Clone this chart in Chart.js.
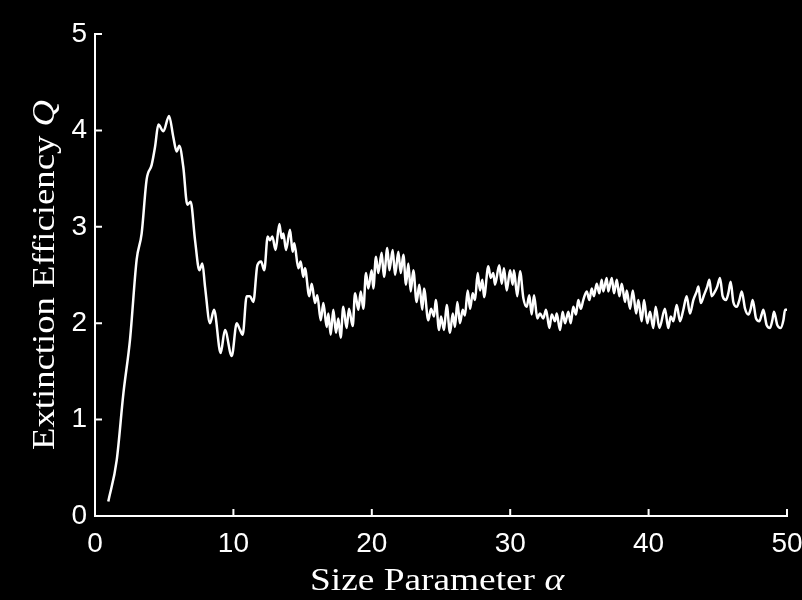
<!DOCTYPE html>
<html>
<head>
<meta charset="utf-8">
<script src="https://cdn.jsdelivr.net/npm/chart.js@4/dist/chart.umd.min.js"></script>
<style>
html,body{margin:0;padding:0;background:#000;}
#wrap{width:802px;height:600px;}
</style>
</head>
<body>
<div id="wrap"><canvas id="c" width="802" height="600"></canvas></div>
<script>
const alpha = [0.96,1.57,2.05,2.53,3.01,3.37,3.73,4.09,4.34,4.58,4.94,5.35,5.66,5.90,6.09,6.38,6.67,6.91,7.23,7.54,7.76,7.95,8.31,8.60,9.08,9.39,9.88,10.24,10.48,
10.67,10.96,11.20,11.44,11.73,12.00,12.23,12.48,12.64,12.81,13.05,13.32,13.49,13.61,13.80,14.09,14.28,14.40,14.69,14.86,15.05,15.17,15.48,15.66,15.90,16.06,16.31,16.50,16.74,16.86,17.03,17.22,17.41,17.58,17.75,17.94,18.18,18.35,18.62,18.79,19.03,19.20,19.39,19.58,19.75,19.99,
20.11,20.30,20.47,20.71,20.88,21.12,21.27,21.51,21.68,21.92,22.09,22.28,22.47,22.64,22.81,23.00,23.24,23.43,23.65,23.77,24.08,24.28,24.50,24.62,24.86,25.00,25.22,25.41,25.65,25.85,26.01,26.18,26.37,26.57,26.73,26.93,27.10,27.29,27.46,27.65,27.82,27.99,28.11,28.42,28.59,28.78,28.90,29.21,29.39,29.55,29.75,29.99,
30.18,30.27,30.51,30.71,30.95,31.19,31.38,31.55,31.72,31.96,32.15,32.39,32.59,32.83,33.00,33.24,33.36,33.60,33.79,33.96,34.20,34.37,34.56,34.75,34.92,35.10,35.28,35.53,35.72,35.89,36.05,36.25,36.44,36.61,36.73,36.97,37.09,37.34,37.50,37.70,37.89,38.06,38.30,38.42,38.66,38.86,39.10,39.26,39.50,39.67,39.91,
40.10,40.34,40.51,40.78,41.18,41.42,41.60,41.79,42.03,42.27,42.51,42.75,42.99,43.23,43.48,43.60,43.77,44.00,44.24,44.39,44.56,44.80,44.96,45.16,45.35,45.59,45.76,45.93,46.12,46.37,46.56,46.73,46.97,47.21,47.38,47.52,47.76,48.00,48.17,48.29,48.53,48.77,48.94,49.06,49.30,49.54,49.74,49.86,50.00];
const Q = [0.15,0.58,1.27,1.83,2.66,2.93,3.49,3.64,3.83,4.06,3.99,4.15,3.93,3.78,3.84,3.62,3.23,3.26,2.86,2.55,2.62,2.38,2.00,2.14,1.69,1.93,1.66,2.00,1.93,
1.88,2.28,2.28,2.22,2.60,2.64,2.55,2.90,2.86,2.90,2.76,3.03,2.88,2.93,2.76,2.97,2.74,2.83,2.57,2.64,2.48,2.57,2.28,2.41,2.21,2.29,2.03,2.21,1.96,2.10,1.88,2.14,1.90,2.05,1.85,2.17,1.95,2.15,1.97,2.31,2.14,2.33,2.15,2.52,2.36,2.55,
2.36,2.69,2.52,2.73,2.48,2.78,2.55,2.76,2.50,2.74,2.52,2.71,2.40,2.62,2.33,2.55,2.22,2.40,2.14,2.36,2.03,2.15,2.07,2.24,1.93,2.07,1.93,2.19,1.90,2.10,1.96,2.22,2.00,2.14,2.08,2.34,2.15,2.31,2.24,2.52,2.34,2.45,2.27,2.59,2.47,2.52,2.40,2.60,2.41,2.57,2.34,2.55,
2.40,2.55,2.28,2.54,2.26,2.17,2.29,2.09,2.29,2.05,2.10,2.05,2.14,1.95,2.09,2.02,2.10,1.93,2.12,2.00,2.12,2.00,2.17,2.09,2.24,2.15,2.24,2.33,2.24,2.36,2.28,2.41,2.31,2.45,2.33,2.47,2.33,2.47,2.31,2.45,2.28,2.41,2.22,2.34,2.15,2.34,2.10,2.24,2.02,2.24,2.00,
2.12,1.95,2.17,1.95,2.15,1.95,2.07,2.02,2.19,2.02,2.14,2.28,2.10,2.24,2.33,2.38,2.21,2.29,2.38,2.45,2.28,2.33,2.38,2.47,2.28,2.24,2.31,2.43,2.22,2.17,2.24,2.33,2.15,2.09,2.15,2.24,2.05,2.02,2.09,2.14,1.98,1.95,2.03,2.12,1.98,1.95,2.03,2.14,2.14];
const xTicks = [0,10,20,30,40,50];
const yTicks = [0,1,2,3,4,5];
const xTitleParts = [['Size Parameter ', false], ['α', true]];
const yTitleParts = [['Extinction Efficiency ', false], ['Q', true]];

const points = alpha.map((a,i)=>({x:a,y:Q[i]}));

function drawParts(ctx, parts, size, targetW){
  const fam = "'Liberation Serif', 'Times New Roman', serif";
  let total = 0;
  const widths = parts.map(([t,it])=>{ctx.font=(it?'italic ':'')+size+'px '+fam; const w=ctx.measureText(t).width; total+=w; return w;});
  const sx = targetW/total;
  ctx.scale(sx,1);
  let x = -total/2;
  parts.forEach(([t,it],i)=>{ctx.font=(it?'italic ':'')+size+'px '+fam; ctx.fillText(t,x,0); x+=widths[i];});
}

const inwardTicks = {
  id:'inwardTicks',
  afterDraw(chart){
    const ctx = chart.ctx, xs = chart.scales.x, ys = chart.scales.y;
    ctx.save();
    ctx.strokeStyle = '#fff';
    ctx.lineWidth = 2;
    ctx.beginPath();
    xTicks.forEach(v=>{const p=xs.getPixelForValue(v); ctx.moveTo(p, ys.bottom); ctx.lineTo(p, ys.bottom-7);});
    yTicks.forEach(v=>{const p=ys.getPixelForValue(v); ctx.moveTo(xs.left, p); ctx.lineTo(xs.left+7, p);});
    ctx.stroke();
    // axis titles (mixed upright / italic)
    ctx.fillStyle = '#fff';
    ctx.textBaseline = 'alphabetic';
    ctx.textAlign = 'left';
    ctx.save();
    ctx.translate((xs.left+xs.right)/2 - 4, 590);
    drawParts(ctx, xTitleParts, 31, 254);
    ctx.restore();
    ctx.save();
    ctx.translate(54, (ys.top+ys.bottom)/2);
    ctx.rotate(-Math.PI/2);
    drawParts(ctx, yTitleParts, 31, 350);
    ctx.restore();
    ctx.restore();
  }
};
const bg = {id:'bg', beforeDraw(c){const ctx=c.ctx; ctx.save(); ctx.fillStyle='#000'; ctx.fillRect(0,0,c.width,c.height); ctx.restore();}};

new Chart(document.getElementById('c'), {
  type:'line',
  data:{datasets:[{data:points, borderColor:'#fff', borderWidth:2.5, pointRadius:0, fill:false, cubicInterpolationMode:'monotone'}]},
  options:{
    responsive:false, animation:false, devicePixelRatio:1,
    layout:{padding:{left:0, right:15, top:34, bottom:0}},
    plugins:{legend:{display:false}, tooltip:{enabled:false}},
    scales:{
      x:{type:'linear', min:0, max:50,
        afterBuildTicks(s){s.ticks = xTicks.map(v=>({value:v}));},
        afterFit(s){s.height = 84; s.paddingRight = 0; s.paddingLeft = 0;},
        grid:{display:true, drawOnChartArea:false, drawTicks:false, color:'rgba(0,0,0,0)'},
        border:{display:true, color:'#fff', width:2},
        ticks:{color:'#fff', padding:11, maxRotation:0, font:{family:'Liberation Sans, Arial', size:28}},
        title:{display:false}
      },
      y:{type:'linear', min:0, max:5,
        afterBuildTicks(s){s.ticks = yTicks.map(v=>({value:v}));},
        afterFit(s){s.width = 95; s.paddingTop = 0; s.paddingBottom = 0;},
        grid:{display:true, drawOnChartArea:false, drawTicks:false, color:'rgba(0,0,0,0)'},
        border:{display:true, color:'#fff', width:2},
        ticks:{color:'#fff', padding:8, font:{family:'Liberation Sans, Arial', size:28}},
        title:{display:false}
      }
    }
  },
  plugins:[bg, inwardTicks]
});
</script>
</body>
</html>
